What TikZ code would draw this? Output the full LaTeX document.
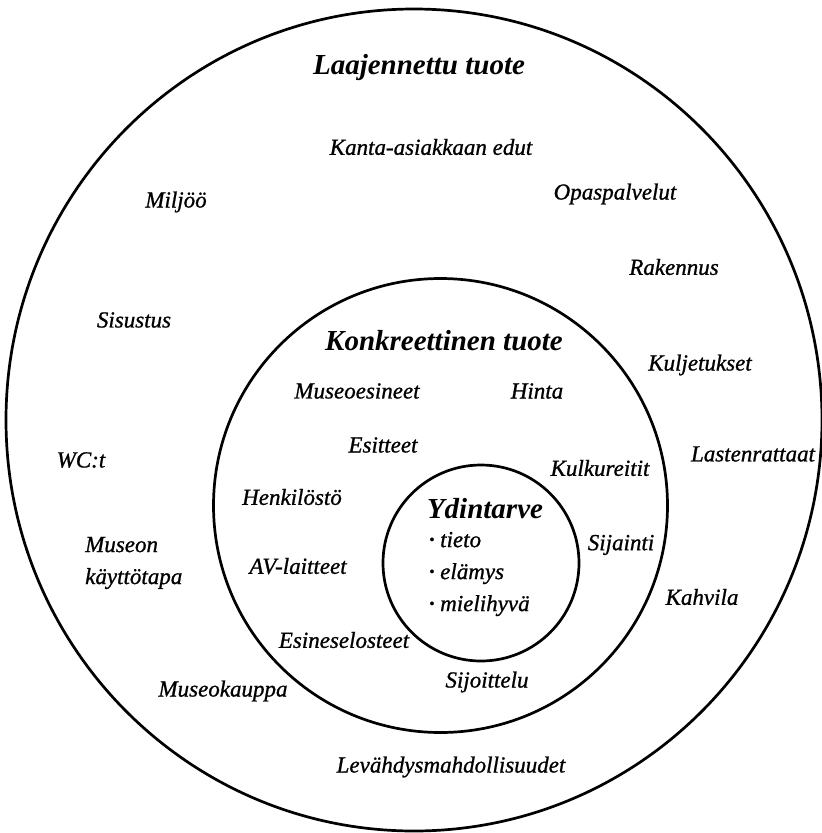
\documentclass[tikz,border=0pt]{standalone}
\usepackage{fontspec}
\setmainfont{Liberation Serif}
\newfontfamily\lblfont{Liberation Serif}[FakeBold=0.9]
\newcommand{\smallbul}{\raisebox{0.12em}{\fontsize{15}{15}\selectfont\textbullet}\ }
\begin{document}
\begin{tikzpicture}[x=1pt,y=-1pt,
  ring/.style={line width=2.7pt},
  lbl/.style={font=\lblfont\fontsize{23}{32}\selectfont\itshape, inner sep=0pt},
  ttl/.style={font=\fontsize{29}{34}\selectfont\bfseries\itshape, inner sep=0pt}]
\useasboundingbox (0,0) rectangle (822,833);
\draw[ring] (414,420) ellipse[x radius=408pt, y radius=411pt];
\draw[ring] (440.5,505.5) circle[radius=227pt];
\draw[ring] (481,563) circle[radius=98pt];

\node[ttl] (laaj) at (419,68) {Laajennettu tuote};
\node[lbl] (kanta) at (431,147) {Kanta-asiakkaan edut};
\node[lbl] (milj) at (176,202) {Miljöö};
\node[lbl] (opas) at (615,194) {Opaspalvelut};
\node[lbl] (rak) at (674,267) {Rakennus};
\node[lbl] (sis) at (134,320) {Sisustus};
\node[ttl] (konk) at (444,341) {Konkreettinen tuote};
\node[lbl] (kulj) at (700,365) {Kuljetukset};
\node[lbl] (mus) at (357,391) {Museoesineet};
\node[lbl] (hinta) at (537,391) {Hinta};
\node[lbl] (last) at (753,454) {Lastenrattaat};
\node[lbl] (wc) at (81,460) {WC:t};
\node[lbl] (esit) at (383,445) {Esitteet};
\node[lbl] (kulk) at (600,468) {Kulkureitit};
\node[lbl] (henk) at (292,497) {Henkilöstö};
\node[ttl] (ydin) at (485,509) {Ydintarve};
\node[lbl, align=left, anchor=west] (lista) at (429,574) {\smallbul tieto\\ \smallbul elämys\\ \smallbul mielihyvä};
\node[lbl] (sij) at (621,545) {Sijainti};
\node[lbl, align=left, anchor=west] (kaytto) at (85,563) {Museon\\ käyttötapa};
\node[lbl] (av) at (298,566) {AV-laitteet};
\node[lbl] (kahv) at (702,597) {Kahvila};
\node[lbl] (esin) at (344,640) {Esineselosteet};
\node[lbl] (sijo) at (487,682) {Sijoittelu};
\node[lbl] (mkaup) at (223,691) {Museokauppa};
\node[lbl] (lev) at (451,767) {Levähdysmahdollisuudet};
\end{tikzpicture}
\end{document}
